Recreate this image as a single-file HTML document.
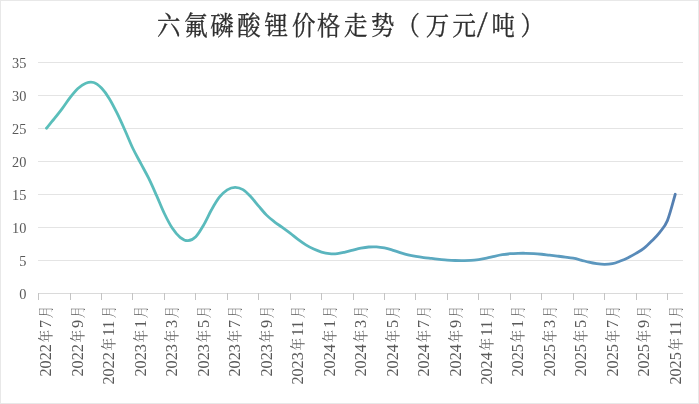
<!DOCTYPE html>
<html><head><meta charset="utf-8"><style>
html,body{margin:0;padding:0;background:#fff;}
body{width:699px;height:404px;overflow:hidden;position:relative;}
svg{position:absolute;left:0;top:0;display:block;}
.c{font-size:14.3px;}
</style></head><body>
<svg width="699" height="404" viewBox="0 0 699 404">
<defs><linearGradient id="lg" gradientUnits="userSpaceOnUse" x1="46" y1="0" x2="676" y2="0">
<stop offset="0" stop-color="#5abfba"/><stop offset="0.4" stop-color="#5ab8bd"/><stop offset="0.55" stop-color="#5aaec0"/><stop offset="0.7" stop-color="#5ca3c0"/><stop offset="0.88" stop-color="#5c96be"/><stop offset="0.95" stop-color="#5888b8"/><stop offset="1" stop-color="#547eb0"/></linearGradient>
<clipPath id="lc"><rect x="0" y="308.4" width="699" height="95"/></clipPath></defs>
<rect x="0.5" y="0.5" width="698" height="403" fill="#fff" stroke="#e8e8e8" stroke-width="1"/>
<g font-family="'Noto Serif CJK SC',serif" font-size="26" fill="#2e2e2e" stroke="#2e2e2e" stroke-width="0.35"><text><tspan x="156.90" y="34.5" textLength="23.40" lengthAdjust="spacingAndGlyphs">六</tspan><tspan x="184.20" y="34.5" textLength="23.40" lengthAdjust="spacingAndGlyphs">氟</tspan><tspan x="210.20" y="34.5" textLength="23.40" lengthAdjust="spacingAndGlyphs">磷</tspan><tspan x="237.15" y="34.5" textLength="23.40" lengthAdjust="spacingAndGlyphs">酸</tspan><tspan x="264.40" y="34.5" textLength="23.40" lengthAdjust="spacingAndGlyphs">锂</tspan><tspan x="291.90" y="34.5" textLength="23.40" lengthAdjust="spacingAndGlyphs">价</tspan><tspan x="316.95" y="34.5" textLength="23.40" lengthAdjust="spacingAndGlyphs">格</tspan><tspan x="344.00" y="34.5" textLength="23.40" lengthAdjust="spacingAndGlyphs">走</tspan><tspan x="371.05" y="34.5" textLength="23.40" lengthAdjust="spacingAndGlyphs">势</tspan><tspan x="396.40" y="34.5" textLength="23.40" lengthAdjust="spacingAndGlyphs">（</tspan><tspan x="425.85" y="34.5" textLength="23.40" lengthAdjust="spacingAndGlyphs">万</tspan><tspan x="452.45" y="34.5" textLength="23.40" lengthAdjust="spacingAndGlyphs">元</tspan><tspan x="476.71" y="32.2" textLength="10.98" lengthAdjust="spacingAndGlyphs">/</tspan><tspan x="491.50" y="34.5" textLength="23.40" lengthAdjust="spacingAndGlyphs">吨</tspan><tspan x="520.45" y="34.5" textLength="23.40" lengthAdjust="spacingAndGlyphs">）</tspan></text></g>
<g stroke="#e4e4e4" stroke-width="1" shape-rendering="crispEdges"><line x1="37.5" x2="683.0" y1="260.5" y2="260.5"/><line x1="37.5" x2="683.0" y1="227.5" y2="227.5"/><line x1="37.5" x2="683.0" y1="194.5" y2="194.5"/><line x1="37.5" x2="683.0" y1="161.5" y2="161.5"/><line x1="37.5" x2="683.0" y1="128.5" y2="128.5"/><line x1="37.5" x2="683.0" y1="95.5" y2="95.5"/><line x1="37.5" x2="683.0" y1="62.5" y2="62.5"/></g>
<g stroke="#dadada" stroke-width="1" shape-rendering="crispEdges"><line x1="38.5" x2="683" y1="293.5" y2="293.5"/></g>
<g stroke="#c4c4c4" stroke-width="1" shape-rendering="crispEdges"><line x1="38.6" x2="38.6" y1="293" y2="300"/><line x1="70.0" x2="70.0" y1="293" y2="300"/><line x1="101.5" x2="101.5" y1="293" y2="300"/><line x1="132.9" x2="132.9" y1="293" y2="300"/><line x1="164.4" x2="164.4" y1="293" y2="300"/><line x1="195.8" x2="195.8" y1="293" y2="300"/><line x1="227.2" x2="227.2" y1="293" y2="300"/><line x1="258.7" x2="258.7" y1="293" y2="300"/><line x1="290.1" x2="290.1" y1="293" y2="300"/><line x1="321.6" x2="321.6" y1="293" y2="300"/><line x1="353.0" x2="353.0" y1="293" y2="300"/><line x1="384.4" x2="384.4" y1="293" y2="300"/><line x1="415.9" x2="415.9" y1="293" y2="300"/><line x1="447.3" x2="447.3" y1="293" y2="300"/><line x1="478.8" x2="478.8" y1="293" y2="300"/><line x1="510.2" x2="510.2" y1="293" y2="300"/><line x1="541.6" x2="541.6" y1="293" y2="300"/><line x1="573.1" x2="573.1" y1="293" y2="300"/><line x1="604.5" x2="604.5" y1="293" y2="300"/><line x1="636.0" x2="636.0" y1="293" y2="300"/><line x1="667.4" x2="667.4" y1="293" y2="300"/></g>
<g font-family="'Liberation Serif','Noto Serif CJK SC',serif" font-size="15.6" fill="#595959" text-anchor="end"><text transform="translate(26.4 298.7) scale(0.92 1)">0</text><text transform="translate(26.4 265.7) scale(0.92 1)">5</text><text transform="translate(26.4 232.7) scale(0.92 1)">10</text><text transform="translate(26.4 199.7) scale(0.92 1)">15</text><text transform="translate(26.4 166.7) scale(0.92 1)">20</text><text transform="translate(26.4 133.7) scale(0.92 1)">25</text><text transform="translate(26.4 100.7) scale(0.92 1)">30</text><text transform="translate(26.4 67.7) scale(0.92 1)">35</text></g>
<g clip-path="url(#lc)" font-family="'Liberation Serif','Noto Serif CJK SC',serif" font-size="16.2" fill="#595959"><text transform="translate(51.31 304) rotate(-90)"><tspan x="-72.50">2022</tspan><tspan class="c" x="-38.39" textLength="12.58" lengthAdjust="spacingAndGlyphs">年</tspan><tspan x="-24.10">7</tspan><tspan class="c" x="-14.29" textLength="12.58" lengthAdjust="spacingAndGlyphs">月</tspan></text><text transform="translate(82.79 304) rotate(-90)"><tspan x="-72.50">2022</tspan><tspan class="c" x="-38.39" textLength="12.58" lengthAdjust="spacingAndGlyphs">年</tspan><tspan x="-24.10">9</tspan><tspan class="c" x="-14.29" textLength="12.58" lengthAdjust="spacingAndGlyphs">月</tspan></text><text transform="translate(114.27 304) rotate(-90)"><tspan x="-80.60">2022</tspan><tspan class="c" x="-46.49" textLength="12.58" lengthAdjust="spacingAndGlyphs">年</tspan><tspan x="-32.20">11</tspan><tspan class="c" x="-14.29" textLength="12.58" lengthAdjust="spacingAndGlyphs">月</tspan></text><text transform="translate(145.74 304) rotate(-90)"><tspan x="-72.50">2023</tspan><tspan class="c" x="-38.39" textLength="12.58" lengthAdjust="spacingAndGlyphs">年</tspan><tspan x="-24.10">1</tspan><tspan class="c" x="-14.29" textLength="12.58" lengthAdjust="spacingAndGlyphs">月</tspan></text><text transform="translate(177.22 304) rotate(-90)"><tspan x="-72.50">2023</tspan><tspan class="c" x="-38.39" textLength="12.58" lengthAdjust="spacingAndGlyphs">年</tspan><tspan x="-24.10">3</tspan><tspan class="c" x="-14.29" textLength="12.58" lengthAdjust="spacingAndGlyphs">月</tspan></text><text transform="translate(208.70 304) rotate(-90)"><tspan x="-72.50">2023</tspan><tspan class="c" x="-38.39" textLength="12.58" lengthAdjust="spacingAndGlyphs">年</tspan><tspan x="-24.10">5</tspan><tspan class="c" x="-14.29" textLength="12.58" lengthAdjust="spacingAndGlyphs">月</tspan></text><text transform="translate(240.18 304) rotate(-90)"><tspan x="-72.50">2023</tspan><tspan class="c" x="-38.39" textLength="12.58" lengthAdjust="spacingAndGlyphs">年</tspan><tspan x="-24.10">7</tspan><tspan class="c" x="-14.29" textLength="12.58" lengthAdjust="spacingAndGlyphs">月</tspan></text><text transform="translate(271.66 304) rotate(-90)"><tspan x="-72.50">2023</tspan><tspan class="c" x="-38.39" textLength="12.58" lengthAdjust="spacingAndGlyphs">年</tspan><tspan x="-24.10">9</tspan><tspan class="c" x="-14.29" textLength="12.58" lengthAdjust="spacingAndGlyphs">月</tspan></text><text transform="translate(303.13 304) rotate(-90)"><tspan x="-80.60">2023</tspan><tspan class="c" x="-46.49" textLength="12.58" lengthAdjust="spacingAndGlyphs">年</tspan><tspan x="-32.20">11</tspan><tspan class="c" x="-14.29" textLength="12.58" lengthAdjust="spacingAndGlyphs">月</tspan></text><text transform="translate(334.61 304) rotate(-90)"><tspan x="-72.50">2024</tspan><tspan class="c" x="-38.39" textLength="12.58" lengthAdjust="spacingAndGlyphs">年</tspan><tspan x="-24.10">1</tspan><tspan class="c" x="-14.29" textLength="12.58" lengthAdjust="spacingAndGlyphs">月</tspan></text><text transform="translate(366.09 304) rotate(-90)"><tspan x="-72.50">2024</tspan><tspan class="c" x="-38.39" textLength="12.58" lengthAdjust="spacingAndGlyphs">年</tspan><tspan x="-24.10">3</tspan><tspan class="c" x="-14.29" textLength="12.58" lengthAdjust="spacingAndGlyphs">月</tspan></text><text transform="translate(397.57 304) rotate(-90)"><tspan x="-72.50">2024</tspan><tspan class="c" x="-38.39" textLength="12.58" lengthAdjust="spacingAndGlyphs">年</tspan><tspan x="-24.10">5</tspan><tspan class="c" x="-14.29" textLength="12.58" lengthAdjust="spacingAndGlyphs">月</tspan></text><text transform="translate(429.05 304) rotate(-90)"><tspan x="-72.50">2024</tspan><tspan class="c" x="-38.39" textLength="12.58" lengthAdjust="spacingAndGlyphs">年</tspan><tspan x="-24.10">7</tspan><tspan class="c" x="-14.29" textLength="12.58" lengthAdjust="spacingAndGlyphs">月</tspan></text><text transform="translate(460.52 304) rotate(-90)"><tspan x="-72.50">2024</tspan><tspan class="c" x="-38.39" textLength="12.58" lengthAdjust="spacingAndGlyphs">年</tspan><tspan x="-24.10">9</tspan><tspan class="c" x="-14.29" textLength="12.58" lengthAdjust="spacingAndGlyphs">月</tspan></text><text transform="translate(492.00 304) rotate(-90)"><tspan x="-80.60">2024</tspan><tspan class="c" x="-46.49" textLength="12.58" lengthAdjust="spacingAndGlyphs">年</tspan><tspan x="-32.20">11</tspan><tspan class="c" x="-14.29" textLength="12.58" lengthAdjust="spacingAndGlyphs">月</tspan></text><text transform="translate(523.48 304) rotate(-90)"><tspan x="-72.50">2025</tspan><tspan class="c" x="-38.39" textLength="12.58" lengthAdjust="spacingAndGlyphs">年</tspan><tspan x="-24.10">1</tspan><tspan class="c" x="-14.29" textLength="12.58" lengthAdjust="spacingAndGlyphs">月</tspan></text><text transform="translate(554.96 304) rotate(-90)"><tspan x="-72.50">2025</tspan><tspan class="c" x="-38.39" textLength="12.58" lengthAdjust="spacingAndGlyphs">年</tspan><tspan x="-24.10">3</tspan><tspan class="c" x="-14.29" textLength="12.58" lengthAdjust="spacingAndGlyphs">月</tspan></text><text transform="translate(586.44 304) rotate(-90)"><tspan x="-72.50">2025</tspan><tspan class="c" x="-38.39" textLength="12.58" lengthAdjust="spacingAndGlyphs">年</tspan><tspan x="-24.10">5</tspan><tspan class="c" x="-14.29" textLength="12.58" lengthAdjust="spacingAndGlyphs">月</tspan></text><text transform="translate(617.91 304) rotate(-90)"><tspan x="-72.50">2025</tspan><tspan class="c" x="-38.39" textLength="12.58" lengthAdjust="spacingAndGlyphs">年</tspan><tspan x="-24.10">7</tspan><tspan class="c" x="-14.29" textLength="12.58" lengthAdjust="spacingAndGlyphs">月</tspan></text><text transform="translate(649.39 304) rotate(-90)"><tspan x="-72.50">2025</tspan><tspan class="c" x="-38.39" textLength="12.58" lengthAdjust="spacingAndGlyphs">年</tspan><tspan x="-24.10">9</tspan><tspan class="c" x="-14.29" textLength="12.58" lengthAdjust="spacingAndGlyphs">月</tspan></text><text transform="translate(680.87 304) rotate(-90)"><tspan x="-80.60">2025</tspan><tspan class="c" x="-46.49" textLength="12.58" lengthAdjust="spacingAndGlyphs">年</tspan><tspan x="-32.20">11</tspan><tspan class="c" x="-14.29" textLength="12.58" lengthAdjust="spacingAndGlyphs">月</tspan></text></g>
<path transform="translate(0 0.5)" d="M46.46 127.75 C47.77 126.15 51.70 121.44 54.32 118.16 C56.94 114.88 59.56 111.59 62.18 108.08 C64.80 104.57 67.42 100.44 70.04 97.10 C72.66 93.75 75.28 90.40 77.90 88.01 C80.52 85.61 83.14 83.72 85.76 82.72 C88.38 81.72 91.00 81.20 93.62 82.02 C96.24 82.83 98.86 84.90 101.48 87.59 C104.10 90.27 106.72 93.93 109.34 98.16 C111.96 102.38 114.58 107.60 117.20 112.91 C119.82 118.21 122.44 124.14 125.06 129.99 C127.68 135.84 130.30 142.51 132.92 148.00 C135.54 153.48 138.16 157.96 140.78 162.91 C143.40 167.87 146.02 172.39 148.64 177.73 C151.26 183.06 153.88 189.04 156.50 194.92 C159.12 200.80 161.74 207.57 164.36 213.01 C166.98 218.45 169.60 223.61 172.22 227.57 C174.84 231.53 177.46 234.70 180.08 236.78 C182.70 238.87 185.32 240.18 187.94 240.08 C190.56 239.97 193.18 238.75 195.80 236.15 C198.42 233.54 201.04 228.90 203.66 224.43 C206.28 219.96 208.90 213.93 211.52 209.31 C214.14 204.69 216.76 200.05 219.38 196.72 C222.00 193.39 224.62 190.98 227.24 189.33 C229.86 187.68 232.48 186.83 235.10 186.80 C237.72 186.76 240.34 187.54 242.96 189.11 C245.58 190.69 248.20 193.51 250.82 196.26 C253.44 199.01 256.06 202.54 258.68 205.60 C261.30 208.66 263.92 212.01 266.54 214.62 C269.16 217.23 271.78 219.24 274.40 221.29 C277.02 223.33 279.64 224.99 282.26 226.89 C284.88 228.79 287.50 230.67 290.12 232.68 C292.74 234.70 295.36 237.01 297.98 238.95 C300.60 240.90 303.22 242.75 305.84 244.35 C308.46 245.95 311.08 247.37 313.70 248.57 C316.32 249.77 318.94 250.77 321.56 251.54 C324.18 252.31 326.80 252.91 329.42 253.18 C332.04 253.45 334.66 253.42 337.28 253.16 C339.90 252.90 342.52 252.20 345.14 251.60 C347.76 251.01 350.38 250.22 353.00 249.57 C355.62 248.92 358.24 248.20 360.86 247.69 C363.48 247.18 366.10 246.71 368.72 246.50 C371.34 246.29 373.96 246.25 376.58 246.41 C379.20 246.58 381.82 246.97 384.44 247.49 C387.06 248.02 389.68 248.79 392.30 249.55 C394.92 250.32 397.54 251.29 400.16 252.09 C402.78 252.89 405.40 253.71 408.02 254.35 C410.64 254.99 413.26 255.50 415.88 255.96 C418.50 256.42 421.12 256.78 423.74 257.11 C426.36 257.45 428.98 257.69 431.60 257.98 C434.22 258.26 436.84 258.57 439.46 258.84 C442.08 259.10 444.70 259.40 447.32 259.59 C449.94 259.79 452.56 259.93 455.18 260.01 C457.80 260.09 460.42 260.09 463.04 260.08 C465.66 260.07 468.28 260.11 470.90 259.93 C473.52 259.75 476.14 259.40 478.76 259.02 C481.38 258.63 484.00 258.16 486.62 257.62 C489.24 257.09 491.86 256.37 494.48 255.81 C497.10 255.24 499.72 254.68 502.34 254.24 C504.96 253.81 507.58 253.45 510.20 253.22 C512.82 252.98 515.44 252.90 518.06 252.83 C520.68 252.76 523.30 252.74 525.92 252.78 C528.54 252.81 531.16 252.87 533.78 253.03 C536.40 253.19 539.02 253.46 541.64 253.74 C544.26 254.01 546.88 254.39 549.50 254.70 C552.12 255.01 554.74 255.28 557.36 255.59 C559.98 255.90 562.60 256.20 565.22 256.55 C567.84 256.91 570.46 257.20 573.08 257.70 C575.70 258.19 578.32 258.88 580.94 259.54 C583.56 260.20 586.18 261.05 588.80 261.66 C591.42 262.27 594.04 262.80 596.66 263.18 C599.28 263.56 601.90 263.93 604.52 263.94 C607.14 263.94 609.76 263.77 612.38 263.20 C615.00 262.64 617.62 261.55 620.24 260.54 C622.86 259.53 625.48 258.44 628.10 257.16 C630.72 255.88 633.34 254.42 635.96 252.87 C638.58 251.33 641.20 249.95 643.82 247.90 C646.44 245.85 649.06 243.22 651.68 240.59 C654.30 237.96 656.92 235.54 659.54 232.13 C662.16 228.72 664.78 226.51 667.40 220.12 C670.02 213.72 673.95 198.16 675.26 193.77" fill="none" stroke="url(#lg)" stroke-width="2.8" stroke-linecap="round" stroke-linejoin="round"/>
</svg>
</body></html>
